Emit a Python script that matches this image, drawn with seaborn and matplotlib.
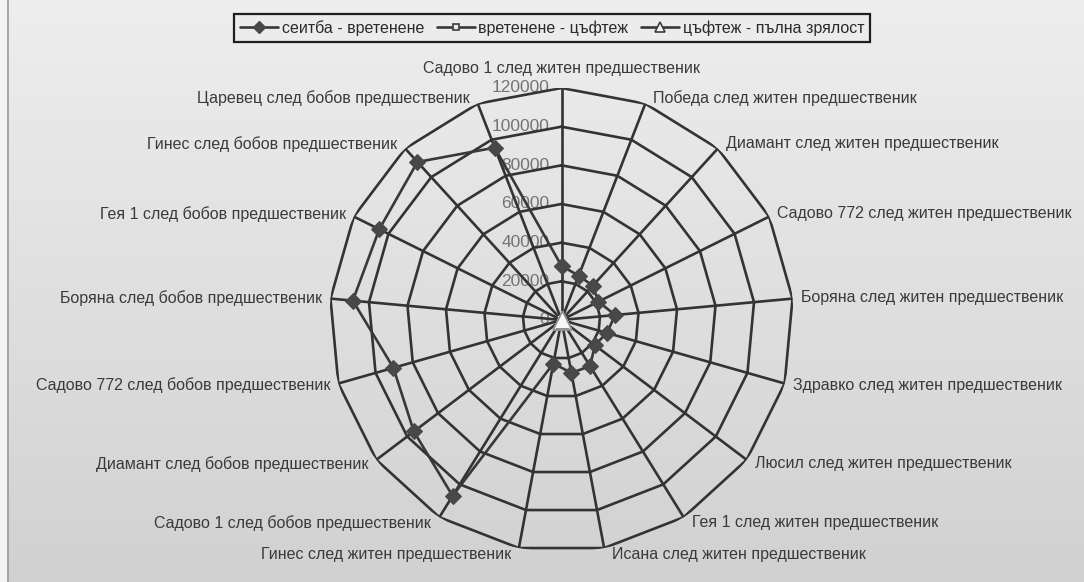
import numpy as np
import pandas as pd
import matplotlib
matplotlib.use("Agg")
import matplotlib.pyplot as plt
from matplotlib.lines import Line2D
import seaborn as sns

# Categories around the radar, clockwise from the top
categories = [
    "Садово 1 след житен предшественик",
    "Победа след житен предшественик",
    "Диамант след житен предшественик",
    "Садово 772 след житен предшественик",
    "Боряна след житен предшественик",
    "Здравко след житен предшественик",
    "Люсил след житен предшественик",
    "Гея 1 след житен предшественик",
    "Исана след житен предшественик",
    "Гинес след житен предшественик",
    "Садово 1 след бобов предшественик",
    "Диамант след бобов предшественик",
    "Садово 772 след бобов предшественик",
    "Боряна след бобов предшественик",
    "Гея 1 след бобов предшественик",
    "Гинес след бобов предшественик",
    "Царевец след бобов предшественик",
]

series_names = ["сеитба - вретенене", "вретенене - цъфтеж", "цъфтеж - пълна зрялост"]

seitba_vretenene = [28000, 24600, 24000, 21300, 27900, 24400, 21600, 28100, 27800,
                    22900, 107000, 95700, 90400, 108400, 105300, 110600, 95600]
vretenene_cuftej = [0] * 17
cuftej_zrelost = [0] * 17

r_ticks = [0, 20000, 40000, 60000, 80000, 100000, 120000]

sns.set_theme(style="white")
plt.rcParams["font.family"] = ["Liberation Sans", "DejaVu Sans"]

W, H = 1084, 582
fig = plt.figure(figsize=(W / 100, H / 100), dpi=100)

# soft vertical gradient background
bg = fig.add_axes([0, 0, 1, 1])
grad = np.linspace(0, 1, 256).reshape(-1, 1)
bg.imshow(grad, cmap=matplotlib.colors.LinearSegmentedColormap.from_list(
    "bg", ["#eeeeee", "#d1d1d1"]), aspect="auto", extent=[0, 1, 0, 1], origin="upper")
bg.axvspan(0, 7 / W, color="#f3f3f3", lw=0)
bg.axvline(7.5 / W, color="#9a9a9a", lw=1.2)
bg.set_xlim(0, 1)
bg.set_ylim(0, 1)
bg.axis("off")

# polar axes for the radar
cx, cy, R = 561.5, 320, 232
ax = fig.add_axes([(cx - R) / W, (H - cy - R) / H, 2 * R / W, 2 * R / H], projection="polar")
ax.set_facecolor("none")
ax.set_theta_zero_location("N")
ax.set_theta_direction(-1)

n = len(categories)
theta = np.arange(n) * 2 * np.pi / n
theta_closed = np.append(theta, theta[0] + 2 * np.pi)

grid_color = "#333333"
for r in r_ticks[1:]:
    ax.plot(theta_closed, [r] * (n + 1), color=grid_color, lw=1.9, zorder=2)
for t in theta:
    ax.plot([t, t], [0, r_ticks[-1]], color=grid_color, lw=1.9, zorder=2)

def closed(vals):
    return pd.DataFrame({"theta": theta_closed, "value": list(vals) + [vals[0]]})

line_color = "#383838"
sns.lineplot(data=closed(seitba_vretenene), x="theta", y="value", ax=ax, sort=False,
             estimator=None, color=line_color, lw=1.9, marker="D", markersize=8.5,
             markerfacecolor="#484848", markeredgecolor="#484848", zorder=4)
sns.lineplot(data=closed(vretenene_cuftej), x="theta", y="value", ax=ax, sort=False,
             estimator=None, color=line_color, lw=1.9, marker="s", markersize=7,
             markerfacecolor="#f0f0f0", markeredgecolor="#3d3d3d", markeredgewidth=1.3,
             zorder=5)
sns.lineplot(data=closed(cuftej_zrelost), x="theta", y="value", ax=ax, sort=False,
             estimator=None, color=line_color, lw=1.9, marker="^", markersize=13,
             markerfacecolor="#f7f7f7", markeredgecolor="#909090", markeredgewidth=1.0,
             zorder=6)

ax.set_ylim(0, r_ticks[-1])
ax.set_xticks([])
ax.set_yticks([])
ax.grid(False)
ax.spines["polar"].set_visible(False)
ax.set_xlabel("")
ax.set_ylabel("")
if ax.get_legend() is not None:
    ax.get_legend().remove()

# radial value labels next to the top spoke
for r in r_ticks:
    ax.annotate(f"{r}", xy=(0, r), xytext=(-12, 0), textcoords="offset pixels",
                ha="right", va="center", fontsize=12.5, color="#747474", zorder=1)

# category labels outside the outer ring
lab_fs = 11.5
for k, (t, name) in enumerate(zip(theta, categories)):
    if k == 0:
        ax.annotate(name, xy=(t, r_ticks[-1]), xytext=(0, 12), textcoords="offset pixels",
                    ha="center", va="bottom", fontsize=lab_fs, color="#3a3a3a",
                    annotation_clip=False)
    else:
        side = 1 if np.sin(t) > 0 else -1
        ax.annotate(name, xy=(t, r_ticks[-1]), xytext=(8 * side, 6.5 * np.cos(t)),
                    textcoords="offset pixels", ha="left" if side > 0 else "right",
                    va="center", fontsize=lab_fs, color="#3a3a3a", annotation_clip=False)

# legend entries: line with a small marker
handles = [
    Line2D([], [], color=line_color, lw=1.9, marker="D", markersize=6,
           markerfacecolor="#484848", markeredgecolor="#484848"),
    Line2D([], [], color=line_color, lw=1.9, marker="s", markersize=5,
           markerfacecolor="#e8e8e8", markeredgecolor="#3d3d3d", markeredgewidth=1.2),
    Line2D([], [], color=line_color, lw=1.9, marker="^", markersize=7,
           markerfacecolor="#f2f2f2", markeredgecolor="#3d3d3d", markeredgewidth=1.2),
]
leg = fig.legend(handles, series_names, loc="center", bbox_to_anchor=(552 / W, 1 - 28 / H),
                 ncol=3, frameon=True, fancybox=False, edgecolor="#1e1e1e",
                 facecolor="#ececec", framealpha=1, fontsize=11.5, handlelength=2.4,
                 handletextpad=0.2, columnspacing=0.8, borderpad=0.35, borderaxespad=0)
leg.get_frame().set_linewidth(1.6)
for text in leg.get_texts():
    text.set_color("#2a2a2a")

fig.savefig("out.png", dpi=100)
